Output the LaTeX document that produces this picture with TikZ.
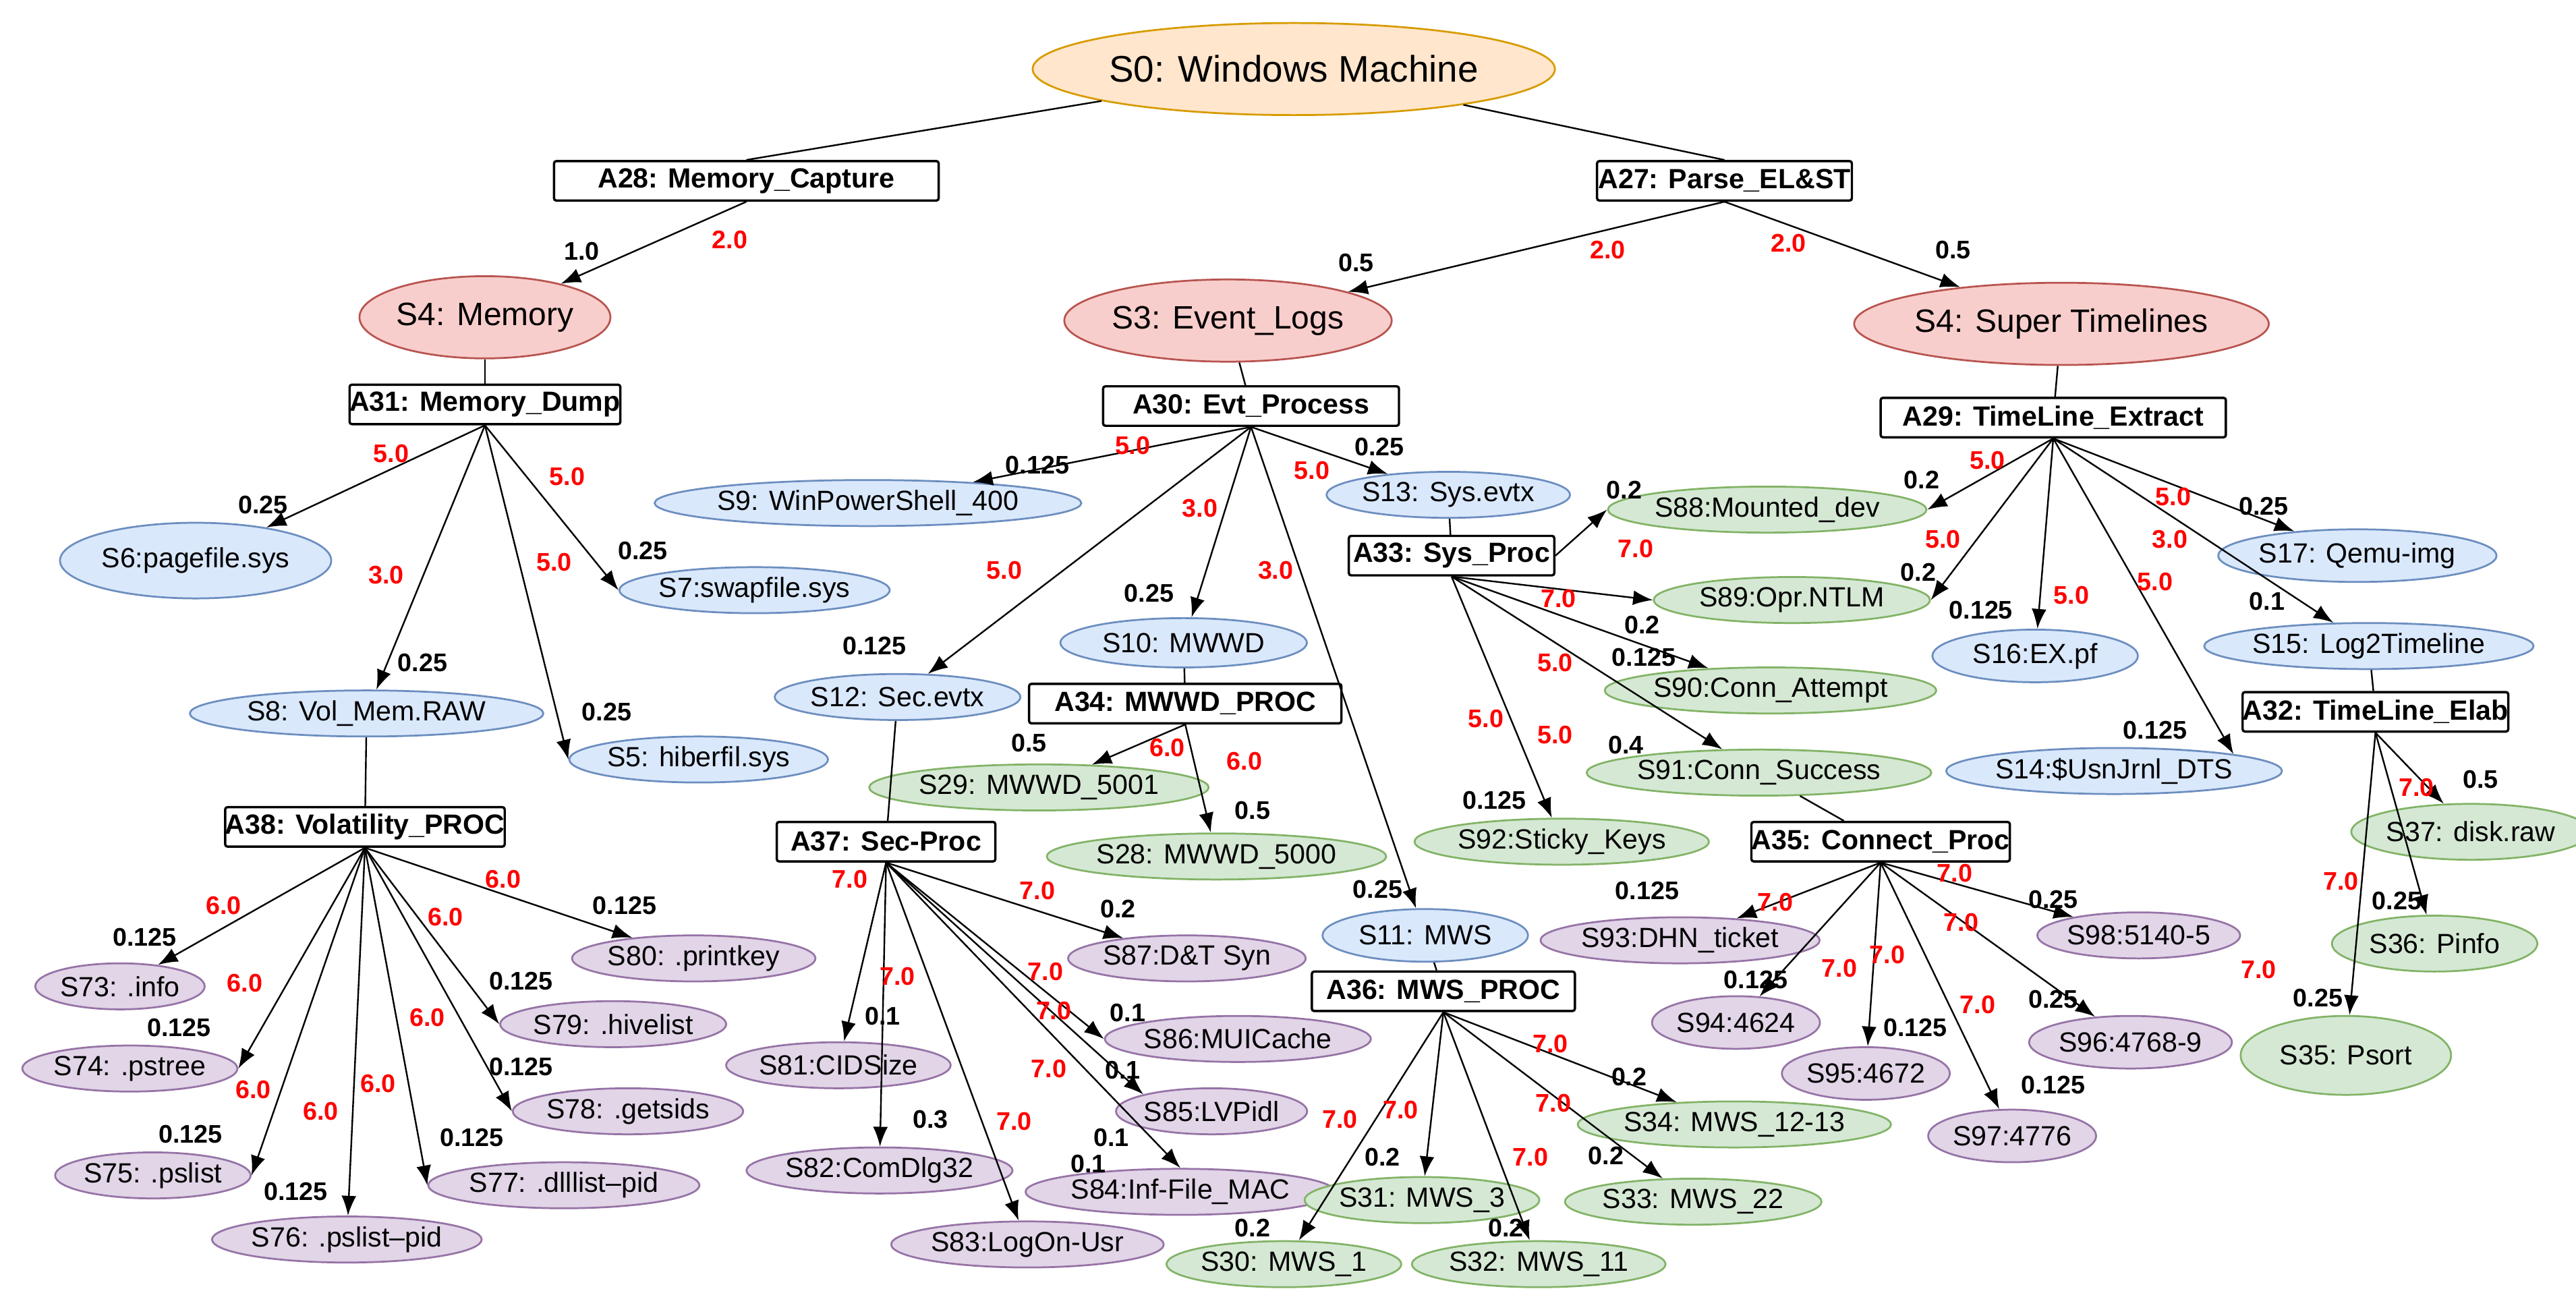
\documentclass[tikz,border=0pt]{standalone}
\usepackage{fontspec}
\setmainfont{Liberation Sans}
\usetikzlibrary{arrows.meta,positioning,shapes.geometric}

\definecolor{orgF}{HTML}{FFE6CC}\definecolor{orgD}{HTML}{D79B00}
\definecolor{redF}{HTML}{F8CECC}\definecolor{redD}{HTML}{B85450}
\definecolor{bluF}{HTML}{DAE8FC}\definecolor{bluD}{HTML}{6C8EBF}
\definecolor{grnF}{HTML}{D5E8D4}\definecolor{grnD}{HTML}{82B366}
\definecolor{purF}{HTML}{E1D5E7}\definecolor{purD}{HTML}{9673A6}

\tikzset{
  st/.style={ellipse,inner sep=0pt,minimum height=0.7cm,font=\fontsize{12}{14}\selectfont,minimum width=#1*0.025cm,line width=0.8pt},
  ro/.style={st=#1,fill=orgF,draw=orgD,minimum height=1.4cm,font=\fontsize{16}{18}\selectfont},
  rs/.style={st=#1,fill=redF,draw=redD,minimum height=1.25cm,font=\fontsize{14}{16}\selectfont},
  bs/.style={st=#1,fill=bluF,draw=bluD},
  gs/.style={st=#1,fill=grnF,draw=grnD},
  ps/.style={st=#1,fill=purF,draw=purD},
  act/.style={draw,rounded corners=1pt,line width=1pt,inner sep=0pt,minimum height=0.6cm,font=\fontsize{12}{14}\selectfont\bfseries,minimum width=#1*0.025cm},
  arr/.style={-{Latex[length=3mm]},line width=0.7pt},
  pln/.style={line width=0.7pt},
  wred/.style={text=red,font=\fontsize{11}{13}\selectfont\bfseries},
  wblk/.style={font=\fontsize{11}{13}\selectfont\bfseries}
}
% arrow from action to state with cost and probability
\newcommand{\lnk}[6]{\draw[arr] (#1) -- (#2); \node[wred] at #4 {#3}; \node[wblk] at #6 {#5};}

\begin{document}
\begin{tikzpicture}[x=0.025cm,y=-0.025cm]
\useasboundingbox (0,0) rectangle (1567,784);

% root and first actions
\node[ro=262] (S0) at (787,42) {S0: Windows Machine};
\node[act=234] (A28) at (454,110) {A28: Memory\_Capture};
\node[act=155] (A27) at (1049,110) {A27: Parse\_EL\&ST};
\node[rs=150] (S4m) at (295,193) {S4: Memory};
\node[rs=175] (S3) at (747,195) {S3: Event\_Logs};
\node[rs=175] (S4t) at (1254,197) {S4: Super Timelines};
\node[act=155] (A31) at (295,246) {A31: Memory\_Dump};
\node[act=180] (A30) at (761,247) {A30: Evt\_Process};
\node[act=210] (A29) at (1249,254) {A29: TimeLine\_Extract};

% memory branch
\node[bs=165,minimum height=1.15cm] (S6) at (119,341) {S6:pagefile.sys};
\node[bs=150] (S7) at (459,359) {S7:swapfile.sys};
\node[bs=215] (S8) at (223,434) {S8: Vol\_Mem.RAW};
\node[bs=120] (S5) at (425,462) {S5: hiberfil.sys};
\node[act=160] (A38) at (222,503) {A38: Volatility\_PROC};
\node[ps=140] (S80) at (422,583) {S80: .printkey};
\node[ps=95] (S73) at (73,600) {S73: .info};
\node[ps=135] (S79) at (373,623) {S79: .hivelist};
\node[ps=105] (S74) at (79,650) {S74: .pstree};
\node[ps=125] (S78) at (382,676) {S78: .getsids};
\node[ps=110] (S75) at (93,715) {S75: .pslist};
\node[ps=165] (S77) at (343,721) {S77: .dlllist--pid};
\node[ps=160] (S76) at (211,754) {S76: .pslist--pid};

% event log branch
\node[bs=220] (S9) at (528,306) {S9: WinPowerShell\_400};
\node[bs=140] (S13) at (881,301) {S13: Sys.evtx};
\node[act=125] (A33) at (883,338) {A33: Sys\_Proc};
\node[bs=150,minimum height=0.75cm] (S10) at (720,391) {S10: MWWD};
\node[bs=110] (S12) at (546,424) {S12: Sec.evtx};
\node[act=190] (A34) at (721,428) {A34: MWWD\_PROC};
\node[gs=160] (S29) at (632,479) {S29: MWWD\_5001};
\node[gs=185] (S28) at (740,521) {S28: MWWD\_5000};
\node[act=133] (A37) at (539,512) {A37: Sec-Proc};
\node[ps=125] (S87) at (722,583) {S87:D\&T Syn};
\node[ps=130] (S86) at (753,632) {S86:MUICache};
\node[ps=115] (S81) at (510,648) {S81:CIDSize};
\node[ps=115] (S85) at (737,676) {S85:LVPidl};
\node[ps=140] (S82) at (535,712) {S82:ComDlg32};
\node[ps=145] (S84) at (718,725) {S84:Inf-File\_MAC};
\node[ps=130] (S83) at (625,757) {S83:LogOn-Usr};
\node[bs=125,minimum height=0.8cm] (S11) at (867,569) {S11: MWS};
\node[act=160] (A36) at (878,603) {A36: MWS\_PROC};
\node[gs=150] (S34) at (1055,684) {S34: MWS\_12-13};
\node[gs=115] (S31) at (865,730) {S31: MWS\_3};
\node[gs=140] (S33) at (1030,731) {S33: MWS\_22};
\node[gs=120] (S30) at (781,769) {S30: MWS\_1};
\node[gs=145] (S32) at (936,769) {S32: MWS\_11};
\node[gs=152] (S88) at (1075,310) {S88:Mounted\_dev};
\node[gs=168] (S89) at (1090,365) {S89:Opr.NTLM};
\node[gs=165] (S90) at (1077,420) {S90:Conn\_Attempt};
\node[gs=165] (S91) at (1070,470) {S91:Conn\_Success};
\node[gs=150] (S92) at (950,512) {S92:Sticky\_Keys};
\node[act=150] (A35) at (1144,512) {A35: Connect\_Proc};
\node[ps=145] (S93) at (1022,572) {S93:DHN\_ticket};
\node[ps=105] (S98) at (1301,569) {S98:5140-5};
\node[ps=100,minimum height=0.8cm] (S94) at (1056,622) {S94:4624};
\node[ps=100,minimum height=0.8cm] (S95) at (1135,653) {S95:4672};
\node[ps=100,minimum height=0.8cm] (S96) at (1296,634) {S96:4768-9};
\node[ps=100,minimum height=0.8cm] (S97) at (1224,691) {S97:4776};

% timeline branch
\node[bs=150,minimum height=0.8cm] (S17) at (1434,338) {S17: Qemu-img};
\node[bs=125,minimum height=0.8cm] (S16) at (1238,399) {S16:EX.pf};
\node[bs=165] (S15) at (1441,393) {S15: Log2Timeline};
\node[act=160] (A32) at (1445,433) {A32: TimeLine\_Elab};
\node[bs=170] (S14) at (1286,469) {S14:\$UsnJrnl\_DTS};
\node[gs=115,minimum height=0.85cm] (S37) at (1503,506) {S37: disk.raw};
\node[gs=125,minimum height=0.85cm] (S36) at (1481,574) {S36: Pinfo};
\node[gs=128,minimum height=1.2cm] (S35) at (1427,642) {S35: Psort};

% plain links
\draw[pln] (S0) -- (A28.north);
\draw[pln] (S0) -- (A27.north);
\draw[pln] (S4m) -- (A31);
\draw[pln] (S3) -- (A30);
\draw[pln] (S4t) -- (A29);
\draw[pln] (S8) -- (A38);
\draw[pln] (S12) -- (A37);
\draw[pln] (S10) -- (A34);
\draw[pln] (S11) -- (A36);
\draw[pln] (S13) -- (A33);
\draw[pln] (S91) -- (A35);
\draw[pln] (S15) -- (A32);

% weighted links
\lnk{A28.south}{S4m}{2.0}{(444,146)}{1.0}{(354,153)}
\lnk{A27.south}{S3}{2.0}{(978,152)}{0.5}{(825,160)}
\lnk{A27.south}{S4t}{2.0}{(1088,148)}{0.5}{(1188,152)}
\lnk{A31.south}{S6}{5.0}{(238,276)}{0.25}{(160,307)}
\lnk{A31.south}{S8}{3.0}{(235,350)}{0.25}{(257,403)}
\lnk{A31.south}{S7.west}{5.0}{(345,290)}{0.25}{(391,335)}
\lnk{A31.south}{S5.west}{5.0}{(337,342)}{0.25}{(369,433)}
\lnk{A30.south}{S9}{5.0}{(689,271)}{0.125}{(631,283)}
\lnk{A30.south}{S12}{5.0}{(611,347)}{0.125}{(532,393)}
\lnk{A30.south}{S10}{3.0}{(730,309)}{0.25}{(699,361)}
\lnk{A30.south}{S11}{3.0}{(776,347)}{0.25}{(838,541)}
\lnk{A30.south}{S13}{5.0}{(798,286)}{0.25}{(839,272)}
\lnk{A33.east}{S88.west}{7.0}{(995,334)}{0.2}{(988,298)}
\lnk{A33.south}{S89.west}{7.0}{(948,364)}{0.2}{(999,380)}
\lnk{A33.south}{S90}{5.0}{(946,403)}{0.125}{(1000,400)}
\lnk{A33.south}{S91}{5.0}{(946,447)}{0.4}{(989,453)}
\lnk{A33.south}{S92}{5.0}{(904,437)}{0.125}{(909,487)}
\lnk{A29.south}{S88.east}{5.0}{(1209,280)}{0.2}{(1169,292)}
\lnk{A29.south}{S89.east}{5.0}{(1182,328)}{0.2}{(1167,348)}
\lnk{A29.south}{S16}{5.0}{(1260,362)}{0.125}{(1205,371)}
\lnk{A29.south}{S14.north east}{5.0}{(1311,354)}{0.125}{(1311,444)}
\lnk{A29.south}{S17}{5.0}{(1322,302)}{0.25}{(1377,308)}
\lnk{A29.south}{S15}{3.0}{(1320,328)}{0.1}{(1379,366)}
\lnk{A32.south}{S37}{7.0}{(1470,479)}{0.5}{(1509,474)}
\lnk{A32.south}{S36}{7.0}{(1424,536)}{0.25}{(1458,548)}
\lnk{A32.south}{S35}{7.0}{(1374,590)}{0.25}{(1410,607)}
\lnk{A34.south}{S29}{6.0}{(710,455)}{0.5}{(626,452)}
\lnk{A34.south}{S28}{6.0}{(757,463)}{0.5}{(762,493)}
\lnk{A38.south}{S73}{6.0}{(136,551)}{0.125}{(88,570)}
\lnk{A38.south}{S74.east}{6.0}{(149,598)}{0.125}{(109,625)}
\lnk{A38.south}{S75.east}{6.0}{(154,663)}{0.125}{(116,690)}
\lnk{A38.south}{S76}{6.0}{(195,676)}{0.125}{(180,725)}
\lnk{A38.south}{S77.west}{6.0}{(230,659)}{0.125}{(287,692)}
\lnk{A38.south}{S78.west}{6.0}{(260,619)}{0.125}{(317,649)}
\lnk{A38.south}{S79.west}{6.0}{(271,558)}{0.125}{(317,597)}
\lnk{A38.south}{S80}{6.0}{(306,535)}{0.125}{(380,551)}
\lnk{A37.south}{S87}{7.0}{(631,542)}{0.2}{(680,553)}
\lnk{A37.south}{S86.west}{7.0}{(636,591)}{0.1}{(686,616)}
\lnk{A37.south}{S85.north west}{7.0}{(641,615)}{0.1}{(683,651)}
\lnk{A37.south}{S84.north}{7.0}{(638,650)}{0.1}{(676,692)}
\lnk{A37.south}{S83}{7.0}{(617,682)}{0.1}{(662,708)}
\lnk{A37.south}{S82}{7.0}{(546,594)}{0.3}{(566,681)}
\lnk{A37.south}{S81}{7.0}{(517,535)}{0.1}{(537,618)}
\lnk{A35.south}{S93}{7.0}{(1080,549)}{0.125}{(1002,542)}
\lnk{A35.south}{S94}{7.0}{(1119,589)}{0.125}{(1068,596)}
\lnk{A35.south}{S95}{7.0}{(1148,581)}{0.125}{(1165,625)}
\lnk{A35.south}{S97}{7.0}{(1203,611)}{0.125}{(1249,660)}
\lnk{A35.south}{S96}{7.0}{(1193,561)}{0.25}{(1249,608)}
\lnk{A35.south}{S98}{7.0}{(1189,531)}{0.25}{(1249,547)}
\lnk{A36.south}{S30}{7.0}{(815,681)}{0.2}{(762,747)}
\lnk{A36.south}{S31}{7.0}{(852,675)}{0.2}{(841,704)}
\lnk{A36.south}{S32}{7.0}{(931,704)}{0.2}{(916,747)}
\lnk{A36.south}{S33}{7.0}{(945,671)}{0.2}{(977,703)}
\lnk{A36.south}{S34}{7.0}{(943,635)}{0.2}{(991,655)}
\end{tikzpicture}
\end{document}
